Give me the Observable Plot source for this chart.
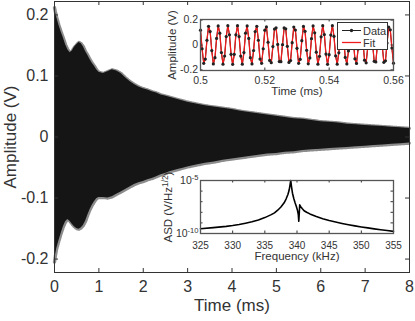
<!DOCTYPE html>
<html><head><meta charset="utf-8">
<script src="https://cdn.jsdelivr.net/npm/d3@7"></script>
<script src="https://cdn.jsdelivr.net/npm/@observablehq/plot@0.6"></script>
<style>
body{margin:0;background:#fff;}
#wrap{position:relative;width:415px;height:321px;overflow:hidden;font-family:"Liberation Sans",Arial,Helvetica,sans-serif;}
#wrap > svg, #wrap > div{position:absolute;}
</style></head><body><div id="wrap"></div>
<script>
// ---------------- data ----------------
// main decay envelope (ms, V)
const timeMs = [0,0.02,0.05,0.1,0.15,0.2,0.25,0.3,0.35,0.4,0.45,0.5,0.55,0.6,0.65,0.7,0.75,0.8,0.85,0.9,0.95,1.0,1.1,1.2,1.3,1.4,1.5,1.6,1.7,1.8,1.9,2.0,2.1,2.2,2.3,2.4,2.5,2.6,2.7,2.8,2.9,3.0,3.2,3.4,3.6,3.8,4.0,4.2,4.4,4.6,4.8,5.0,5.2,5.4,5.6,5.8,6.0,6.2,6.4,6.6,6.8,7.0,7.2,7.4,7.6,7.8,8.0];
const envUpper = [0.212,0.205,0.196,0.183,0.172,0.162,0.151,0.143,0.138,0.141,0.147,0.151,0.155,0.153,0.148,0.140,0.134,0.127,0.121,0.116,0.110,0.106,0.104,0.107,0.110,0.108,0.104,0.097,0.091,0.086,0.082,0.079,0.077,0.074,0.072,0.069,0.067,0.065,0.063,0.061,0.059,0.057,0.054,0.051,0.049,0.047,0.045,0.042,0.040,0.038,0.036,0.034,0.032,0.030,0.029,0.027,0.025,0.024,0.023,0.021,0.020,0.019,0.018,0.017,0.016,0.015,0.014];
const envLower = [-0.205,-0.195,-0.183,-0.170,-0.158,-0.147,-0.139,-0.135,-0.138,-0.143,-0.147,-0.150,-0.151,-0.149,-0.145,-0.138,-0.128,-0.119,-0.112,-0.106,-0.101,-0.099,-0.099,-0.100,-0.098,-0.094,-0.090,-0.086,-0.082,-0.078,-0.075,-0.073,-0.070,-0.068,-0.065,-0.062,-0.060,-0.057,-0.055,-0.053,-0.051,-0.049,-0.046,-0.043,-0.041,-0.038,-0.036,-0.034,-0.032,-0.030,-0.028,-0.027,-0.025,-0.024,-0.022,-0.021,-0.020,-0.019,-0.018,-0.017,-0.016,-0.015,-0.014,-0.013,-0.012,-0.011,-0.010];
const mainXTicks = [0,1,2,3,4,5,6,7,8];
const mainYTicks = [-0.2,-0.1,0,0.1,0.2];

// zoomed window (ms, V)
const zoomTime = [
0.5,0.5005,0.501,0.5015,0.502,0.5025,0.503,0.5035,0.504,0.5045,
0.505,0.5055,0.506,0.5065,0.507,0.5075,0.508,0.5085,0.509,0.5095,
0.51,0.5105,0.511,0.5115,0.512,0.5125,0.513,0.5135,0.514,0.5145,
0.515,0.5155,0.516,0.5165,0.517,0.5175,0.518,0.5185,0.519,0.5195,
0.52,0.5205,0.521,0.5215,0.522,0.5225,0.523,0.5235,0.524,0.5245,
0.525,0.5255,0.526,0.5265,0.527,0.5275,0.528,0.5285,0.529,0.5295,
0.53,0.5305,0.531,0.5315,0.532,0.5325,0.533,0.5335,0.534,0.5345,
0.535,0.5355,0.536,0.5365,0.537,0.5375,0.538,0.5385,0.539,0.5395,
0.54,0.5405,0.541,0.5415,0.542,0.5425,0.543,0.5435,0.544,0.5445,
0.545,0.5455,0.546,0.5465,0.547,0.5475,0.548,0.5485,0.549,0.5495,
0.55,0.5505,0.551,0.5515,0.552,0.5525,0.553,0.5535,0.554,0.5545,
0.555,0.5555,0.556,0.5565,0.557,0.5575,0.558,0.5585,0.559,0.5595,
0.56];
const zoomData = [
0.119,-0.030,-0.147,-0.113,0.038,0.150,0.108,-0.045,-0.152,-0.102,
0.053,0.153,0.095,-0.061,-0.154,-0.089,0.068,0.155,0.082,-0.075,
-0.155,-0.075,0.082,0.155,0.068,-0.089,-0.154,-0.061,0.095,0.153,
0.053,-0.102,-0.152,-0.045,0.108,0.150,0.038,-0.113,-0.147,-0.030,
0.119,0.145,0.022,-0.124,-0.142,-0.013,0.128,0.138,0.005,-0.133,
-0.134,0.003,0.137,0.130,-0.011,-0.140,-0.125,0.019,0.144,0.120,
-0.027,-0.147,-0.115,0.035,0.149,0.110,-0.043,-0.151,-0.104,0.051,
0.153,0.098,-0.058,-0.154,-0.091,0.066,0.155,0.084,-0.073,-0.155,
-0.078,0.080,0.155,0.070,-0.087,-0.154,-0.063,0.093,0.153,0.056,
-0.100,-0.152,-0.048,0.106,0.150,0.040,-0.111,-0.148,-0.032,0.117,
0.146,0.024,-0.122,-0.143,-0.016,0.127,0.139,0.008,-0.131,-0.136,
0.000,0.136,0.131,-0.008,-0.139,-0.127,0.016,0.143,0.122,-0.024,
-0.146];
const zoomFit = zoomData.slice();
const zoomXTicks = [0.5,0.52,0.54,0.56];
const zoomYTicks = [-0.2,0,0.2];

// amplitude spectral density (kHz, V/Hz^1/2)
const freqKHz = [325,327,329,330,331,332,333,334,335,336,336.5,337,337.5,338,338.3,338.6,338.8,338.95,339.03,339.15,339.3,339.5,339.7,339.9,340.05,340.2,340.28,340.34,340.42,340.55,340.8,341.1,341.5,342,343,344,345,346,347,348,349,350,351,352,353,354,355];
const asd = [2.82e-10,3.55e-10,4.68e-10,5.62e-10,7.08e-10,9.33e-10,1.26e-9,1.91e-9,3.16e-9,6.03e-9,8.91e-9,1.58e-8,3.16e-8,7.94e-8,1.78e-7,5.01e-7,1.41e-6,5.01e-6,1e-5,2.51e-6,6.31e-7,2e-7,7.94e-8,3.55e-8,1.78e-8,6.31e-9,1.41e-9,6.31e-9,5.01e-8,3.55e-8,2.24e-8,1.41e-8,1e-8,7.08e-9,3.98e-9,2.51e-9,1.66e-9,1.2e-9,8.91e-10,6.76e-10,5.25e-10,4.17e-10,3.39e-10,2.75e-10,2.29e-10,1.91e-10,1.58e-10];
const asdXTicks = [325,330,335,340,345,350,355];
const asdYTicks = [1e-10,1e-9,1e-8,1e-7,1e-6,1e-5];

// ---------------- helpers ----------------
const FONT = '"Liberation Sans", Arial, Helvetica, sans-serif';
const TXT = "#333333";
const AX = "#333333";
function innerTicks(xt, yt, xd, yd, L, sw) {
  const o = {stroke: AX, strokeWidth: sw};
  return [
    Plot.ruleX(xt, {x: d => d, y1: yd[0], y2: yd[0], insetTop: -L, ...o}),
    Plot.ruleX(xt, {x: d => d, y1: yd[1], y2: yd[1], insetBottom: -L, ...o}),
    Plot.ruleY(yt, {y: d => d, x1: xd[0], x2: xd[0], insetRight: -L, ...o}),
    Plot.ruleY(yt, {y: d => d, x1: xd[1], x2: xd[1], insetLeft: -L, ...o})
  ];
}
function yTitle(s, dx, size) {
  return Plot.text([s], {frameAnchor: "left", dx, rotate: -90, textAnchor: "middle", lineAnchor: "middle", fontSize: size, fill: TXT});
}
const wrap = document.getElementById("wrap");

// ---------------- main plot ----------------
const env = timeMs.map((t, i) => ({t, hi: envUpper[i], lo: envLower[i]}));
const mxd = [0, 8], myd = [-0.222, 0.222];
const mainPlot = Plot.plot({
  width: 415, height: 321,
  marginLeft: 54, marginRight: 6, marginTop: 1, marginBottom: 49,
  style: {fontFamily: FONT, background: "transparent", color: TXT},
  x: {domain: mxd}, y: {domain: myd},
  marks: [
    Plot.line(env, {x: "t", y: "hi", stroke: "#8c8c8c", strokeWidth: 3.4, strokeDasharray: "1,1"}),
    Plot.line(env, {x: "t", y: "lo", stroke: "#8c8c8c", strokeWidth: 3.4, strokeDasharray: "1,1"}),
    Plot.areaY(env, {x: "t", y1: "lo", y2: "hi", fill: "#151515"}),
    ...innerTicks(mainXTicks, mainYTicks, mxd, myd, 4, 1),
    Plot.frame({stroke: AX, strokeWidth: 1}),
    Plot.axisX({ticks: mainXTicks, tickSize: 0, tickPadding: 8, tickFormat: d => String(d), label: null, fontSize: 16, fill: TXT}),
    Plot.axisY({ticks: mainYTicks, tickSize: 0, tickPadding: 6, tickFormat: d => String(d), label: null, fontSize: 16, fill: TXT}),
    Plot.text(["Time (ms)"], {frameAnchor: "bottom", dy: 38, fontSize: 17, fill: TXT}),
    yTitle("Amplitude (V)", -44, 17)
  ]
});
mainPlot.style.left = "0px"; mainPlot.style.top = "0px";
wrap.appendChild(mainPlot);

// ---------------- top inset ----------------
const zoomRows = zoomTime.map((t, i) => ({t, v: zoomData[i], f: zoomFit[i]}));
const zxd = [0.5, 0.56], zyd = [-0.205, 0.205];
const topInset = Plot.plot({
  width: 270, height: 110,
  marginLeft: 60, marginRight: 17, marginTop: 19, marginBottom: 40,
  style: {fontFamily: FONT, background: "transparent", overflow: "visible", color: TXT},
  x: {domain: zxd}, y: {domain: zyd},
  marks: [
    Plot.frame({fill: "white", stroke: null}),
    Plot.line(zoomRows, {x: "t", y: "v", stroke: "#222", strokeWidth: 1}),
    Plot.line(zoomRows, {x: "t", y: "f", stroke: "#ee1c1c", strokeWidth: 1.3}),
    Plot.dot(zoomRows, {x: "t", y: "v", r: 1.6, fill: "#222", stroke: null}),
    ...innerTicks(zoomXTicks, zoomYTicks, zxd, zyd, 2.5, 1),
    Plot.frame({stroke: "#555", strokeWidth: 1.3}),
    Plot.axisX({ticks: zoomXTicks, tickSize: 0, tickPadding: 6, tickFormat: d => String(d), label: null, fontSize: 10.5, fill: TXT}),
    Plot.axisY({ticks: zoomYTicks, tickSize: 0, tickPadding: 2.5, tickFormat: d => String(d), label: null, fontSize: 10.5, fill: TXT}),
    Plot.text(["Time (ms)"], {frameAnchor: "bottom", dy: 24, fontSize: 11.5, fill: TXT}),
    yTitle("Amplitude (V)", -28, 11.5)
  ]
});
topInset.style.left = "140px"; topInset.style.top = "0px";
wrap.appendChild(topInset);

// legend
const leg = document.createElement("div");
leg.style.cssText = "left:337px;top:22px;width:51px;height:28px;box-sizing:border-box;border:1px solid #333;background:#fff;";
leg.innerHTML = `<svg width="49" height="26" style="display:block;font-family:${FONT.replace(/"/g, "'")};font-size:11px;fill:${TXT}">
<line x1="4" x2="23" y1="7.5" y2="7.5" stroke="#222" stroke-width="1"/><circle cx="13.5" cy="7.5" r="1.7" fill="#222"/>
<text x="25" y="11.5">Data</text>
<line x1="4" x2="23" y1="19.5" y2="19.5" stroke="#ee1c1c" stroke-width="1.3"/>
<text x="25" y="23.5">Fit</text></svg>`;
wrap.appendChild(leg);

// ---------------- bottom inset ----------------
const asdRows = freqKHz.map((f, i) => ({f, a: asd[i]}));
const axd = [325, 355], ayd = [1e-10, 1e-5];
const botInset = Plot.plot({
  width: 270, height: 110,
  marginLeft: 60, marginRight: 17, marginTop: 20, marginBottom: 37,
  style: {fontFamily: FONT, background: "transparent", overflow: "visible", color: TXT},
  x: {domain: axd}, y: {type: "log", domain: ayd},
  marks: [
    Plot.frame({fill: "white", stroke: null}),
    Plot.line(asdRows, {x: "f", y: "a", stroke: "#000", strokeWidth: 1.6}),
    ...innerTicks(asdXTicks, asdYTicks, axd, ayd, 2.5, 1),
    Plot.frame({stroke: "#555", strokeWidth: 1.3}),
    Plot.axisX({ticks: asdXTicks, tickSize: 0, tickPadding: 8, tickFormat: d => String(d), label: null, fontSize: 10, fill: TXT}),
    Plot.axisY({ticks: asdYTicks, tickSize: 0, tickPadding: 2, tickFormat: d => d === 1e-5 ? "10^-5" : d === 1e-10 ? "10^-10" : "", label: null, fontSize: 10.5, fill: TXT}),
    Plot.text(["Frequency (kHz)"], {frameAnchor: "bottom", dy: 26.5, fontSize: 11.5, fill: TXT}),
    yTitle("ASD (V/Hz^1/2)", -32, 11.5)
  ]
});
botInset.style.left = "140px"; botInset.style.top = "160px";
wrap.appendChild(botInset);

// superscripts as real text
botInset.querySelectorAll("text").forEach(el => {
  const s = el.textContent;
  const m = s.match(/^(.*?)\^(.+?)(\))?$/);
  if (!m) return;
  const base = m[1], sup = m[2], tail = m[3] || "";
  while (el.firstChild) el.removeChild(el.firstChild);
  el.appendChild(document.createTextNode(base));
  const ts = document.createElementNS("http://www.w3.org/2000/svg", "tspan");
  ts.setAttribute("dy", "-0.45em"); ts.setAttribute("font-size", "0.72em");
  ts.textContent = sup; el.appendChild(ts);
  if (tail) {
    const t2 = document.createElementNS("http://www.w3.org/2000/svg", "tspan");
    t2.setAttribute("dy", "0.32em"); t2.textContent = tail; el.appendChild(t2);
  }
});
</script></body></html>
